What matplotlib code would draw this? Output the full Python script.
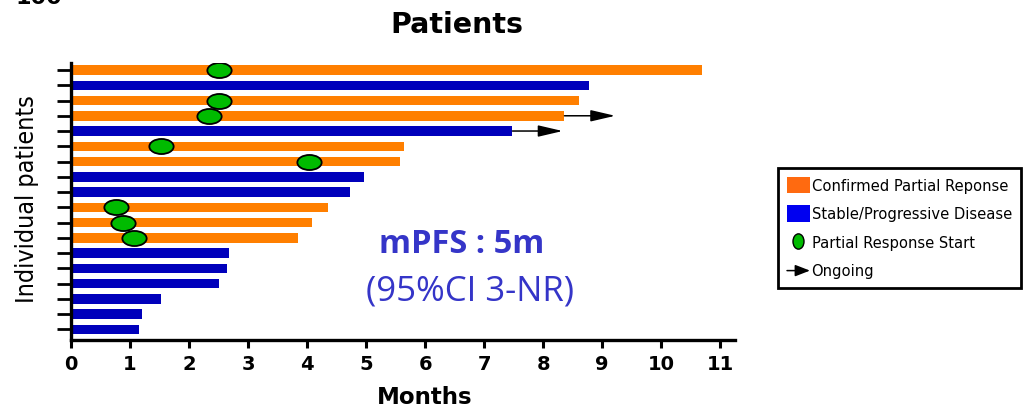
import matplotlib
matplotlib.use("Agg")
import matplotlib.pyplot as plt
from matplotlib.path import Path
from matplotlib.transforms import Affine2D
from matplotlib.patches import Patch, FancyArrowPatch, ArrowStyle
from matplotlib.lines import Line2D
from matplotlib.legend_handler import HandlerBase
from matplotlib.font_manager import FontProperties

# Swimmer plot data, one entry per patient, listed from top to bottom
patients = list(range(1, 19))
months = [10.69, 8.77, 8.60, 8.36, 7.48, 5.64, 5.57, 4.97, 4.72,
          4.36, 4.08, 3.84, 2.68, 2.64, 2.51, 1.52, 1.20, 1.15]
response = ["PR", "SD", "PR", "PR", "SD", "PR", "PR", "SD", "SD",
            "PR", "PR", "PR", "SD", "SD", "SD", "SD", "SD", "SD"]
pr_start = [2.51, None, 2.51, 2.33, None, 1.52, 4.04, None, None,
            0.76, 0.88, 1.06, None, None, None, None, None, None]
ongoing_to = [None, None, None, 9.22, 8.33, None, None, None, None,
              None, None, None, None, None, None, None, None, None]
x_ticks = list(range(0, 12))

ORANGE = "#FF7F00"
BLUE = "#0000BB"
GREEN = "#00BB00"
TEXT_BLUE = "#3535C8"


def narrow(size):
    return FontProperties(family="DejaVu Sans", stretch="condensed", size=size)


fig = plt.figure(figsize=(10.24, 4.09), dpi=100)
ax = fig.add_axes([71 / 1024, 1 - 340 / 409, 664 / 1024, 277 / 409])

n = len(patients)
ypos = [n - 1 - i for i in range(n)]
colors = [ORANGE if r == "PR" else BLUE for r in response]
ax.barh(ypos, months, height=0.62, color=colors, linewidth=0, zorder=2)

# Ongoing arrows
for y, start, end in zip(ypos, months, ongoing_to):
    if end is not None:
        arr = FancyArrowPatch((start, y), (end, y),
                              arrowstyle=ArrowStyle("-|>", head_length=1.5, head_width=0.35),
                              mutation_scale=10, lw=1.1, color="black",
                              shrinkA=0, shrinkB=0, zorder=3)
        ax.add_patch(arr)

# Partial response start markers (horizontal ellipses)
ellipse = Path(Affine2D().scale(1.0, 0.62).transform(Path.unit_circle().vertices),
               Path.unit_circle().codes)
px = [p for p in pr_start if p is not None]
py = [y for y, p in zip(ypos, pr_start) if p is not None]
ax.plot(px, py, linestyle="none", marker=ellipse, markersize=17.5,
        markerfacecolor=GREEN, markeredgecolor="black", markeredgewidth=1.3, zorder=4)

ax.set_xlim(0, 11.25)
ax.set_ylim(-0.7, 17.46)
ax.set_xticks(x_ticks)
ax.set_xticklabels([str(t) for t in x_ticks], fontsize=14, fontweight="bold",
                   family="DejaVu Sans")
ax.set_yticks(ypos)
ax.set_yticklabels([])
ax.tick_params(axis="y", length=10, width=2, direction="out")
ax.tick_params(axis="x", length=6, width=2.2, direction="out", pad=5)
for side in ("top", "right"):
    ax.spines[side].set_visible(False)
for side in ("left", "bottom"):
    ax.spines[side].set_linewidth(2.4)

# Titles and labels
fig.text(457 / 1024, 1 - 33 / 409, "Patients", ha="center", va="baseline",
         fontsize=20.5, fontweight="bold", family="DejaVu Sans")
fig.text(425 / 1024, 1 - 404 / 409, "Months", ha="center", va="baseline",
         fontsize=16.5, fontweight="bold", family="DejaVu Sans")
fig.text(27 / 1024, 1 - 199 / 409, "Individual patients", ha="center", va="center",
         rotation=90, fontproperties=narrow(18))
fig.text(15 / 1024, 1 - 4 / 409, "100", ha="left", va="baseline",
         fontsize=16, fontweight="bold", family="DejaVu Sans")

# Median PFS annotation
fig.text(379 / 1024, 1 - 253 / 409, "mPFS : 5m", ha="left", va="baseline",
         fontsize=23.5, fontweight="bold", family="Open Sans", color=TEXT_BLUE)
fig.text(366 / 1024, 1 - 301 / 409, "(95%CI 3-NR)", ha="left", va="baseline",
         fontsize=25, family="Open Sans", color=TEXT_BLUE)


class ArrowHandler(HandlerBase):
    def create_artists(self, legend, orig_handle, xdescent, ydescent,
                       width, height, fontsize, trans):
        y = height / 2 - ydescent
        arr = FancyArrowPatch((-xdescent, y), (-xdescent + width, y),
                              arrowstyle=ArrowStyle("-|>", head_length=0.9, head_width=0.35),
                              mutation_scale=10, lw=1.1, color="black",
                              shrinkA=0, shrinkB=0, transform=trans)
        return [arr]


class OngoingKey:
    pass


tall_ellipse = Path(Affine2D().scale(0.72, 1.0).transform(Path.unit_circle().vertices),
                    Path.unit_circle().codes)
handles = [
    Patch(facecolor="#FF6A10", edgecolor="none"),
    Patch(facecolor="#0000F0", edgecolor="none"),
    Line2D([], [], linestyle="none", marker=tall_ellipse, markersize=11,
           markerfacecolor=GREEN, markeredgecolor="black", markeredgewidth=1.0),
    OngoingKey(),
]
labels = ["Confirmed Partial Reponse", "Stable/Progressive Disease",
          "Partial Response Start", "Ongoing"]
leg = fig.legend(handles, labels, loc="upper left",
                 bbox_to_anchor=(778 / 1024, 1 - 168 / 409),
                 bbox_transform=fig.transFigure, borderaxespad=0,
                 prop=narrow(11.8),
                 handler_map={OngoingKey: ArrowHandler()},
                 fancybox=False, framealpha=1, edgecolor="black",
                 handlelength=1.4, handleheight=1.15, handletextpad=0.1,
                 labelspacing=0.72, borderpad=0.55, numpoints=1)
leg.get_frame().set_linewidth(2.0)

fig.savefig("out.png", dpi=100)
